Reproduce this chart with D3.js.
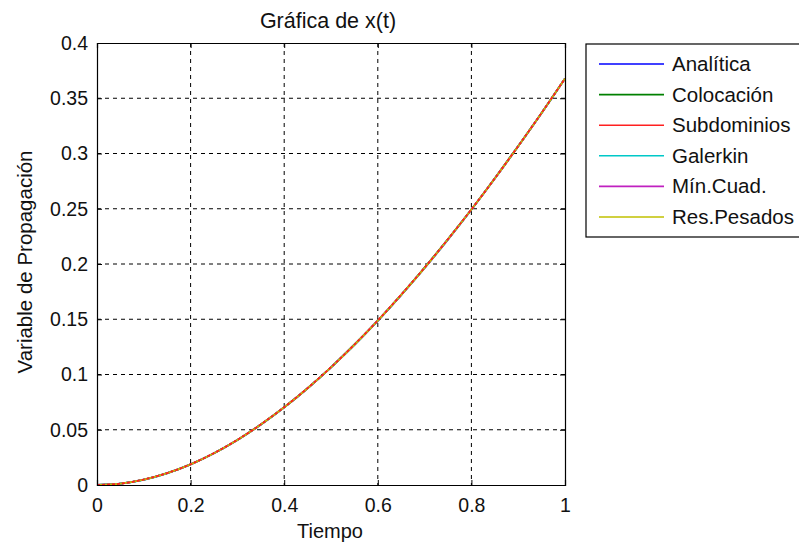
<!DOCTYPE html>
<html>
<head>
<meta charset="utf-8">
<script src="https://cdn.jsdelivr.net/npm/d3@7"></script>
<style>
  body { margin: 0; background: #fff; }
  svg { display: block; font-family: "Liberation Sans", Arial, sans-serif; }
</style>
</head>
<body>
<div id="chart"></div>
<script>
// time samples and the curves (all methods overlap closely)
const tValues = [0, 0.05, 0.1, 0.15, 0.2, 0.25, 0.3, 0.35, 0.4, 0.45, 0.5,
                 0.55, 0.6, 0.65, 0.7, 0.75, 0.8, 0.85, 0.9, 0.95, 1.0];
const analitica   = [0, 0.0012, 0.0048, 0.0107, 0.0187, 0.0288, 0.0408, 0.0547, 0.0703, 0.0876, 0.1065,
                     0.1270, 0.1488, 0.1721, 0.1966, 0.2224, 0.2493, 0.2774, 0.3066, 0.3367, 0.3679];
const colocacion  = [0, 0.0012, 0.0048, 0.0107, 0.0187, 0.0288, 0.0408, 0.0547, 0.0703, 0.0876, 0.1065,
                     0.1272, 0.1488, 0.1721, 0.1968, 0.2226, 0.2493, 0.2776, 0.3067, 0.3367, 0.3679];
const subdominios = [0, 0.0012, 0.0049, 0.0108, 0.0188, 0.0289, 0.0409, 0.0548, 0.0704, 0.0877, 0.1066,
                     0.1271, 0.1489, 0.1722, 0.1967, 0.2225, 0.2494, 0.2775, 0.3067, 0.3368, 0.3679];
const galerkin    = [0, 0.0012, 0.0047, 0.0106, 0.0186, 0.0287, 0.0407, 0.0546, 0.0702, 0.0875, 0.1064,
                     0.1266, 0.1486, 0.1718, 0.1962, 0.2221, 0.2492, 0.2773, 0.3065, 0.3366, 0.3679];
const minCuad     = [0, 0.0012, 0.0048, 0.0107, 0.0187, 0.0288, 0.0408, 0.0547, 0.0703, 0.0876, 0.1065,
                     0.1268, 0.1487, 0.1720, 0.1964, 0.2223, 0.2493, 0.2774, 0.3066, 0.3367, 0.3679];
const resPesados  = [0, 0.0012, 0.0048, 0.0107, 0.0187, 0.0288, 0.0408, 0.0547, 0.0703, 0.0876, 0.1065,
                     0.1269, 0.1488, 0.1720, 0.1965, 0.2224, 0.2493, 0.2774, 0.3066, 0.3367, 0.3679];

const seriesNames = ["Analítica", "Colocación", "Subdominios", "Galerkin", "Mín.Cuad.", "Res.Pesados"];
const seriesValues = [analitica, colocacion, subdominios, galerkin, minCuad, resPesados];
const seriesColors = ["#0000ff", "#008000", "#ff2020", "#00c8c8", "#c020c0", "#c0c000"];

const xTicks = [0, 0.2, 0.4, 0.6, 0.8, 1];
const yTicks = [0, 0.05, 0.1, 0.15, 0.2, 0.25, 0.3, 0.35, 0.4];

const W = 799, H = 544;
const margin = {top: 43, right: 234, bottom: 59, left: 97};
const width = W - margin.left - margin.right;
const height = H - margin.top - margin.bottom;

const svg = d3.select("#chart").append("svg")
  .attr("width", W)
  .attr("height", H);

const g = svg.append("g")
  .attr("transform", `translate(${margin.left},${margin.top})`);

const x = d3.scaleLinear().domain([0, 1]).range([0, width]);
const y = d3.scaleLinear().domain([0, 0.4]).range([height, 0]);

// dashed grid
g.append("g").selectAll("line")
  .data(xTicks.slice(1, -1))
  .join("line")
  .attr("x1", d => x(d)).attr("x2", d => x(d))
  .attr("y1", 0).attr("y2", height)
  .attr("stroke", "#000").attr("stroke-width", 1)
  .attr("stroke-dasharray", "4,4");

g.append("g").selectAll("line")
  .data(yTicks.slice(1, -1))
  .join("line")
  .attr("x1", 0).attr("x2", width)
  .attr("y1", d => y(d)).attr("y2", d => y(d))
  .attr("stroke", "#000").attr("stroke-width", 1)
  .attr("stroke-dasharray", "4,4");

// curves
const line = d3.line()
  .x((d, i) => x(tValues[i]))
  .y(d => y(d))
  .curve(d3.curveMonotoneX);

// red drawn last with a dash so yellow/cyan show through like the original
const drawOrder = [0, 1, 3, 4, 5, 2];
drawOrder.forEach(k => {
  g.append("path")
    .datum(seriesValues[k])
    .attr("fill", "none")
    .attr("stroke", seriesColors[k])
    .attr("stroke-width", 1.8)
    .attr("stroke-dasharray", k === 2 ? "3,2" : null)
    .attr("d", line);
});

// axes with inward ticks (box style)
const fmt = d => d3.format("")(+d.toFixed(2));

const xAxis = g.append("g")
  .attr("transform", `translate(0,${height})`)
  .call(d3.axisBottom(x).tickValues(xTicks).tickSize(-5).tickPadding(13).tickFormat(fmt));
const xAxisTop = g.append("g")
  .call(d3.axisTop(x).tickValues(xTicks).tickSize(-5).tickFormat(""));
const yAxis = g.append("g")
  .call(d3.axisLeft(y).tickValues(yTicks).tickSize(-5).tickPadding(9).tickFormat(fmt));
const yAxisRight = g.append("g")
  .attr("transform", `translate(${width},0)`)
  .call(d3.axisRight(y).tickValues(yTicks).tickSize(-5).tickFormat(""));

[xAxis, xAxisTop, yAxis, yAxisRight].forEach(a => {
  a.select(".domain").attr("stroke", "#000").attr("stroke-width", 1.2);
  a.selectAll(".tick line").attr("stroke", "#000");
  a.selectAll("text")
    .attr("fill", "#111")
    .style("font-size", "19.5px")
    .style("font-family", "Liberation Sans, Arial, sans-serif");
});

// title and axis labels
svg.append("text")
  .attr("x", 328)
  .attr("y", 28)
  .attr("text-anchor", "middle")
  .attr("fill", "#111")
  .style("font-size", "21.5px")
  .text("Gráfica de x(t)");

svg.append("text")
  .attr("x", 330)
  .attr("y", 538)
  .attr("text-anchor", "middle")
  .attr("fill", "#111")
  .style("font-size", "20px")
  .text("Tiempo");

svg.append("text")
  .attr("transform", `translate(32,262) rotate(-90)`)
  .attr("text-anchor", "middle")
  .attr("fill", "#111")
  .style("font-size", "20.5px")
  .text("Variable de Propagación");

// legend
const legend = svg.append("g").attr("transform", "translate(586,44)");
legend.append("rect")
  .attr("x", 0).attr("y", 0)
  .attr("width", 230).attr("height", 193)
  .attr("fill", "#fff")
  .attr("stroke", "#000").attr("stroke-width", 1.2);

seriesNames.forEach((name, i) => {
  const yy = 20 + i * 30.6;
  legend.append("line")
    .attr("x1", 13).attr("x2", 78)
    .attr("y1", yy).attr("y2", yy)
    .attr("stroke", seriesColors[i]).attr("stroke-width", 1.6);
  legend.append("text")
    .attr("x", 86).attr("y", yy + 7)
    .attr("fill", "#111")
    .style("font-size", "20.5px")
    .text(name);
});
</script>
</body>
</html>
